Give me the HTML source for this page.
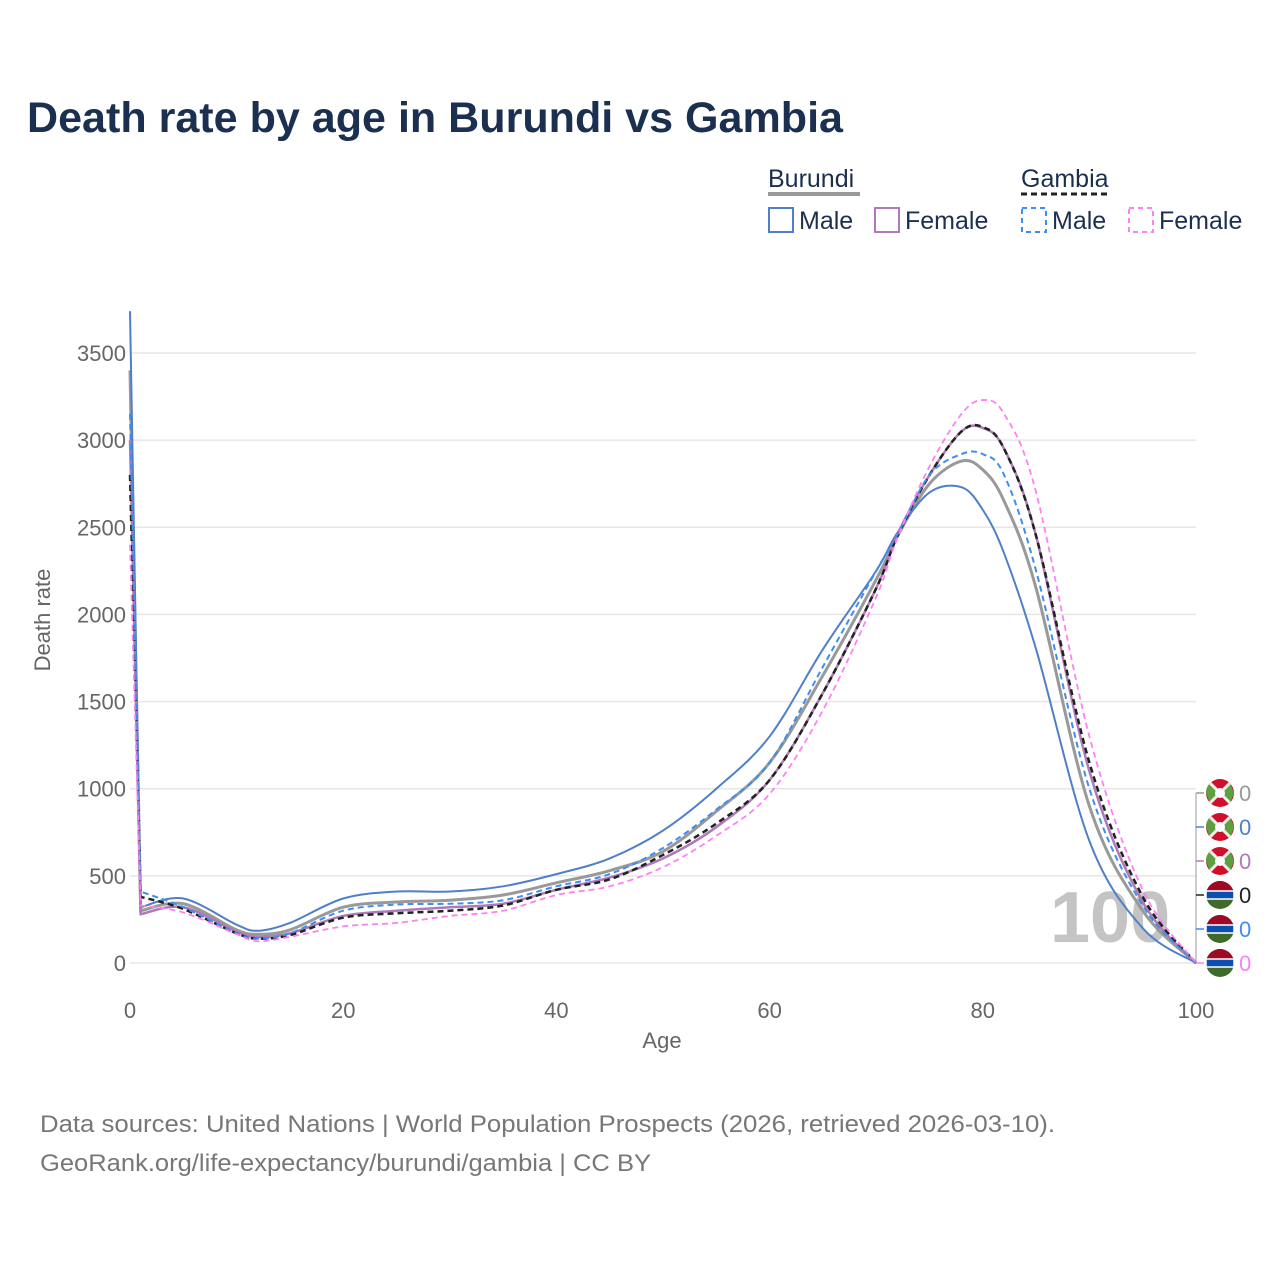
<!DOCTYPE html>
<html><head><meta charset="utf-8"><style>
body{margin:0;background:#fff;font-family:"Liberation Sans",sans-serif;}
#wrap{position:relative;width:1280px;height:1280px;overflow:hidden;}
</style></head><body>
<div id="wrap">
<svg id="chart" width="1280" height="1280">
<text x="27" y="132" font-size="43" font-weight="bold" fill="#1b3050" textLength="816" lengthAdjust="spacingAndGlyphs">Death rate by age in Burundi vs Gambia</text>
<g font-size="25" fill="#1b3050">
<text x="768" y="187">Burundi</text>
<line x1="768" x2="860" y1="194" y2="194" stroke="#999" stroke-width="4"/>
<text x="1021" y="187">Gambia</text>
<line x1="1021" x2="1109" y1="194" y2="194" stroke="#222" stroke-width="3" stroke-dasharray="6,4"/>
<g><rect x="769" y="208" width="24" height="24" fill="none" stroke="#4f7fc8" stroke-width="2"/><text x="799" y="229">Male</text></g>
<g><rect x="875" y="208" width="24" height="24" fill="none" stroke="#b07ab8" stroke-width="2"/><text x="905" y="229">Female</text></g>
<g><rect x="1022" y="208" width="24" height="24" fill="none" stroke="#3d8ef0" stroke-width="2" stroke-dasharray="5,4"/><text x="1052" y="229">Male</text></g>
<g><rect x="1129" y="208" width="24" height="24" fill="none" stroke="#ff80f0" stroke-width="2" stroke-dasharray="5,4"/><text x="1159" y="229">Female</text></g>
</g>
<g id="grid"></g>
<text x="1050" y="942" font-size="72" font-weight="bold" fill="#c4c4c4">100</text>
<g id="series"></g>
<g id="axes" font-size="22" fill="#666"></g>
<text x="662" y="1048" font-size="22" fill="#666" text-anchor="middle">Age</text>
<text transform="translate(50,620) rotate(-90)" font-size="22" fill="#666" text-anchor="middle">Death rate</text>
<g id="flags"></g>
<text x="40" y="1132" font-size="24" fill="#777" textLength="1015" lengthAdjust="spacingAndGlyphs">Data sources: United Nations | World Population Prospects (2026, retrieved 2026-03-10).</text>
<text x="40" y="1171" font-size="24" fill="#777" textLength="611" lengthAdjust="spacingAndGlyphs">GeoRank.org/life-expectancy/burundi/gambia | CC BY</text>
</svg>
</div>
<script>
const ages = [0,1,5,10,12,15,20,25,30,35,40,45,50,55,60,65,70,72,75,78,80,82,85,90,95,100];
const burundiTotal = [3400,300,340,190,165,190,320,350,360,390,460,530,640,870,1150,1650,2200,2450,2750,2880,2830,2650,2150,900,300,0];
const burundiMale = [3740,320,370,220,185,230,370,410,410,440,510,600,760,1000,1300,1800,2250,2470,2700,2730,2600,2350,1800,700,200,0];
const burundiFemale = [3000,280,320,180,150,170,270,300,320,340,420,490,600,780,1050,1550,2150,2460,2800,3050,3070,2950,2450,1100,350,0];
const gambiaTotal = [2800,380,310,170,140,160,260,285,300,330,420,480,620,800,1050,1550,2150,2450,2800,3050,3075,2950,2450,1150,380,0];
const gambiaMale = [3150,410,320,170,140,170,300,335,340,360,440,510,660,880,1150,1700,2250,2460,2800,2920,2920,2800,2250,1000,330,0];
const gambiaFemale = [2400,330,290,165,125,150,210,230,270,300,390,440,550,730,970,1450,2100,2440,2850,3150,3230,3150,2700,1300,420,0];
const yTicks = [0,500,1000,1500,2000,2500,3000,3500];
const xTicks = [0,20,40,60,80,100];

const NS="http://www.w3.org/2000/svg";
const X=a=>130+a*(1196-130)/100;
const Y=v=>963-v*(963-353)/3500;
function mk(tag,attrs,parent){const e=document.createElementNS(NS,tag);for(const k in attrs)e.setAttribute(k,attrs[k]);parent.appendChild(e);return e;}
const grid=document.getElementById('grid'),axes=document.getElementById('axes'),ser=document.getElementById('series'),flags=document.getElementById('flags');
yTicks.forEach(t=>{
  const l=mk('line',{x1:130,x2:1196,y1:Y(t),y2:Y(t),stroke:'#e6e6e6','stroke-width':1.5},grid);
  
  
  const tx=mk('text',{x:126,y:Y(t)+8,'text-anchor':'end'},axes);tx.textContent=t;
  
  
});
xTicks.forEach(t=>{
  const tx=mk('text',{x:X(t),y:1018,'text-anchor':'middle'},axes);tx.textContent=t;
  
  
});
function path(vals){
  const p=ages.map((a,i)=>[X(a),Y(vals[i])]);
  let d=`M${p[0][0]},${p[0][1]} L${p[1][0]},${p[1][1]}`;
  for(let i=1;i<p.length-1;i++){
    const p0=p[Math.max(i-1,1)],p1=p[i],p2=p[i+1],p3=p[Math.min(i+2,p.length-1)];
    const c1=[p1[0]+(p2[0]-p0[0])/6,p1[1]+(p2[1]-p0[1])/6];
    const c2=[p2[0]-(p3[0]-p1[0])/6,p2[1]-(p3[1]-p1[1])/6];
    d+=` C${c1[0]},${c1[1]} ${c2[0]},${c2[1]} ${p2[0]},${p2[1]}`;
  }
  return d;
}
const seriesDefs=[
 ['burundi-total-line',burundiTotal,'#999',3,''],
 ['burundi-male-line',burundiMale,'#4f7fc8',2,''],
 ['burundi-female-line',burundiFemale,'#b07ab8',2.5,''],
 ['gambia-total-line',gambiaTotal,'#222',2.5,'6,4'],
 ['gambia-male-line',gambiaMale,'#3d8ef0',2,'6,4'],
 ['gambia-female-line',gambiaFemale,'#ff80f0',1.8,'6,4']];
seriesDefs.forEach(s=>{
  const e=mk('path',{d:path(s[1]),fill:'none',stroke:s[2],'stroke-width':s[3],'stroke-dasharray':s[4]},ser);
  
  
});
const labColors=['#999','#4f7fc8','#b07ab8','#222','#3d8ef0','#ff80f0'];
mk('line',{x1:1196,x2:1196,y1:793,y2:963,stroke:'#999','stroke-width':1},flags);
labColors.forEach((c,i)=>{
  const y=793+i*34, cx=1220, g=mk('g',{},flags);
  
  
  mk('line',{x1:1196,x2:1204,y1:y,y2:y,stroke:c,'stroke-width':1.5},g);
  const r=14;
  if(i<3){
    mk('circle',{cx,cy:y,r,fill:'#d0102a'},g);
    mk('path',{d:`M${cx-r},${y} L${cx},${y} L${cx-r*0.75},${y-r*0.66} A${r},${r} 0 0 0 ${cx-r},${y} Z`,fill:'#5ea040'},g);
    mk('path',{d:`M${cx-r},${y} L${cx-r*0.75},${y+r*0.66} L${cx},${y} Z`,fill:'#5ea040'},g);
    mk('path',{d:`M${cx+r},${y} L${cx+r*0.75},${y-r*0.66} L${cx},${y} Z M${cx+r},${y} L${cx+r*0.75},${y+r*0.66} L${cx},${y} Z`,fill:'#5ea040'},g);
    mk('line',{x1:cx-r*0.7,y1:y-r*0.7,x2:cx+r*0.7,y2:y+r*0.7,stroke:'#eee','stroke-width':3},g);
    mk('line',{x1:cx+r*0.7,y1:y-r*0.7,x2:cx-r*0.7,y2:y+r*0.7,stroke:'#eee','stroke-width':3},g);
    mk('circle',{cx,cy:y,r:5,fill:'#fff'},g);
  } else {
    mk('circle',{cx,cy:y,r,fill:'#3f6a2a'},g);
    mk('path',{d:`M${cx-r},${y} A${r},${r} 0 0 1 ${cx+r},${y} Z`,fill:'#9e0a24'},g);
    mk('rect',{x:cx-r,y:y-4,width:2*r,height:8,fill:'#0b4fb0',stroke:'#fff','stroke-width':1.5},g);
  }
  const t=mk('text',{x:1239,y:y+8,'font-size':22,fill:c},g);t.textContent='0';
});
</script>
</body></html>
